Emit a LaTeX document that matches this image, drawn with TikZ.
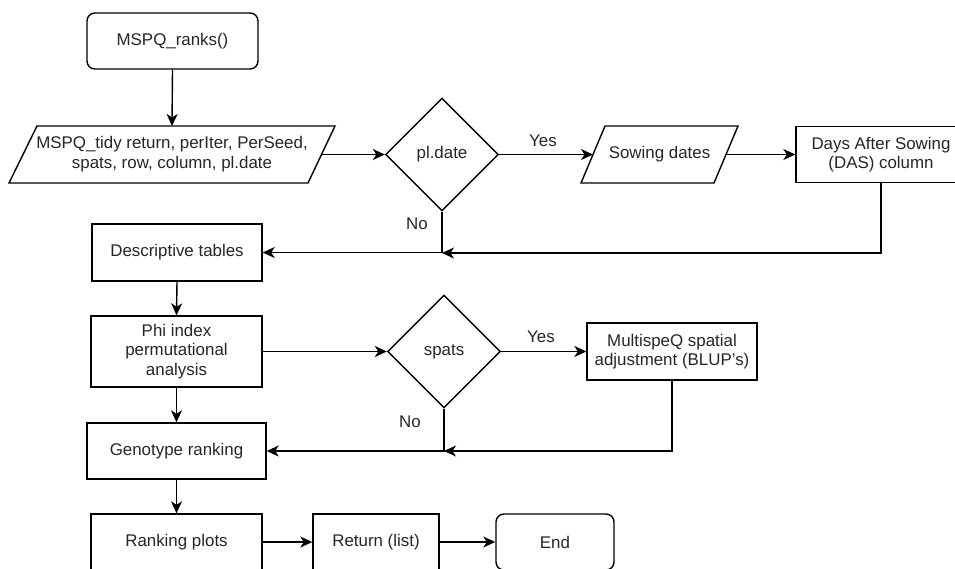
\documentclass[tikz,border=0pt]{standalone}
\usepackage{fontspec}
\setmainfont{Liberation Sans}
\usetikzlibrary{shapes.geometric,arrows.meta}
\begin{document}
\begin{tikzpicture}[x=1pt,y=-1pt,
  font=\fontsize{16.9}{19.5}\selectfont,
  every node/.style={text=black!85, inner sep=0pt},
  line/.style={line width=1.4pt, draw=black},
  arr/.style={line, -{Stealth[length=12pt,width=11pt,inset=3.5pt]}},
  boxnode/.style={draw=black, line width=1.4pt, rectangle, align=center},
  roundnode/.style={boxnode, rounded corners=8pt},
  decision/.style={draw=black, line width=1.4pt, diamond, minimum width=113pt, minimum height=113pt},
  lbl/.style={font=\fontsize{16.9}{19.5}\selectfont}
]
\clip (0,0) rectangle (955,568);
\fill[white] (0,0) rectangle (955,568);

% nodes
\node[roundnode, minimum width=171pt, minimum height=56pt] (start) at (172.5,41) {MSPQ\_ranks()};

\draw[line] (37,126) -- (335,126) -- (308,183) -- (9,183) -- cycle;
\node[align=center] (tidy) at (172,154) {MSPQ\_tidy return, perIter, PerSeed,\\spats, row, column, pl.date};
\coordinate (tidytop) at (172,126);
\coordinate (tidyright) at (321.5,154.5);

\node[decision] (pldate) at (442,154.5) {pl.date};

\draw[line] (605,126) -- (738,126) -- (714,183) -- (581,183) -- cycle;
\node (sow) at (659.5,154.5) {Sowing dates};
\coordinate (sowleft) at (593,154.5);
\coordinate (sowright) at (726,154.5);

\node[boxnode, minimum width=170pt, minimum height=56pt] (das) at (881,154.5) {Days After Sowing\\(DAS) column};

\node[boxnode, minimum width=170pt, minimum height=57pt] (desc) at (177,252.5) {Descriptive tables};
\node[boxnode, minimum width=171pt, minimum height=71pt] (phi) at (176.5,351.5) {Phi index\\permutational\\analysis};
\node[decision] (spats) at (444,351.5) {spats};
\node[boxnode, minimum width=170pt, minimum height=57pt] (msq) at (672,351.5) {MultispeQ spatial\\adjustment (BLUP's)};
\node[boxnode, minimum width=179pt, minimum height=56pt] (geno) at (176.5,451) {Genotype ranking};
\node[boxnode, minimum width=171pt, minimum height=56pt] (rplot) at (176.5,542) {Ranking plots};
\node[boxnode, minimum width=126pt, minimum height=56pt] (ret) at (376,542) {Return (list)};
\node[roundnode, minimum width=118pt, minimum height=56pt] (end) at (555,542) {End};

\coordinate (j1) at (442,253);
\coordinate (j2) at (444,451);

% labels
\node[lbl] (yes1) at (543,141) {Yes};
\node[lbl] (no1) at (417,224) {No};
\node[lbl] (yes2) at (541,337) {Yes};
\node[lbl] (no2) at (410,422) {No};

% connectors
\draw[arr] (start.south) -- (tidytop);
\draw[arr] (tidyright) -- (pldate.west);
\draw[arr] (pldate.east) -- (sowleft);
\draw[arr] (sowright) -- (das.west);
\draw[arr] (das.south) |- (j1);
\draw[arr] (pldate.south) |- (desc.east);
\draw[arr] (desc.south) -- (phi.north);
\draw[arr] (phi.east) -- (spats.west);
\draw[arr] (spats.east) -- (msq.west);
\draw[arr] (msq.south) |- (j2);
\draw[arr] (spats.south) |- (geno.east);
\draw[arr] (phi.south) -- (geno.north);
\draw[arr] (geno.south) -- (rplot.north);
\draw[arr] (rplot.east) -- (ret.west);
\draw[arr] (ret.east) -- (end.west);
\end{tikzpicture}
\end{document}
